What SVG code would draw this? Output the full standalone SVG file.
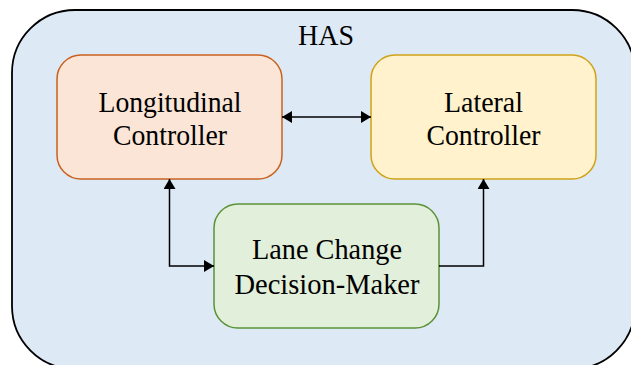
<svg xmlns="http://www.w3.org/2000/svg" width="631" height="365" viewBox="0 0 631 365">
<style>
text{font-family:"Liberation Serif","Times New Roman",serif;font-size:30px;fill:#000;text-anchor:middle}
.box{stroke-width:1.5}
.conn{fill:none;stroke:#000;stroke-width:1.5}
</style>
<defs>
<marker id="arr" viewBox="0 0 10 12" refX="10" refY="6" markerWidth="10" markerHeight="12" markerUnits="userSpaceOnUse" orient="auto-start-reverse">
<path d="M0,0 L10,6 L0,12 Z" fill="#000"/>
</marker>
</defs>
<g id="has">
<rect x="12" y="10" width="623" height="359" rx="63" ry="63" fill="#dee9f6" stroke="#000" stroke-width="1.8"/>
<text x="326" y="44.5" textLength="56" lengthAdjust="spacingAndGlyphs">HAS</text>
</g>
<g id="longitudinal">
<rect class="box" x="57" y="55" width="225" height="124" rx="24" fill="#fbe5d6" stroke="#c9621f"/>
<text x="170" y="111.5" textLength="143" lengthAdjust="spacingAndGlyphs">Longitudinal</text>
<text x="170" y="144.5" textLength="114" lengthAdjust="spacingAndGlyphs">Controller</text>
</g>
<g id="lateral">
<rect class="box" x="371" y="55" width="225" height="124" rx="24" fill="#fff2cc" stroke="#d0a217"/>
<text x="483.5" y="111.5" textLength="79" lengthAdjust="spacingAndGlyphs">Lateral</text>
<text x="483.5" y="144.5" textLength="114" lengthAdjust="spacingAndGlyphs">Controller</text>
</g>
<g id="lanechange">
<rect class="box" x="214" y="204" width="225" height="124" rx="24" fill="#e2efda" stroke="#5b9237"/>
<text x="327" y="258.5" textLength="150" lengthAdjust="spacingAndGlyphs">Lane Change</text>
<text x="327" y="293.5" textLength="185" lengthAdjust="spacingAndGlyphs">Decision-Maker</text>
</g>
<g id="connectors">
<path class="conn" d="M282,117 L371,117" marker-start="url(#arr)" marker-end="url(#arr)"/>
<path class="conn" d="M169.5,179 L169.5,266 L214,266" marker-start="url(#arr)" marker-end="url(#arr)"/>
<path class="conn" d="M439,266 L483.5,266 L483.5,179" marker-end="url(#arr)"/>
</g>
</svg>
